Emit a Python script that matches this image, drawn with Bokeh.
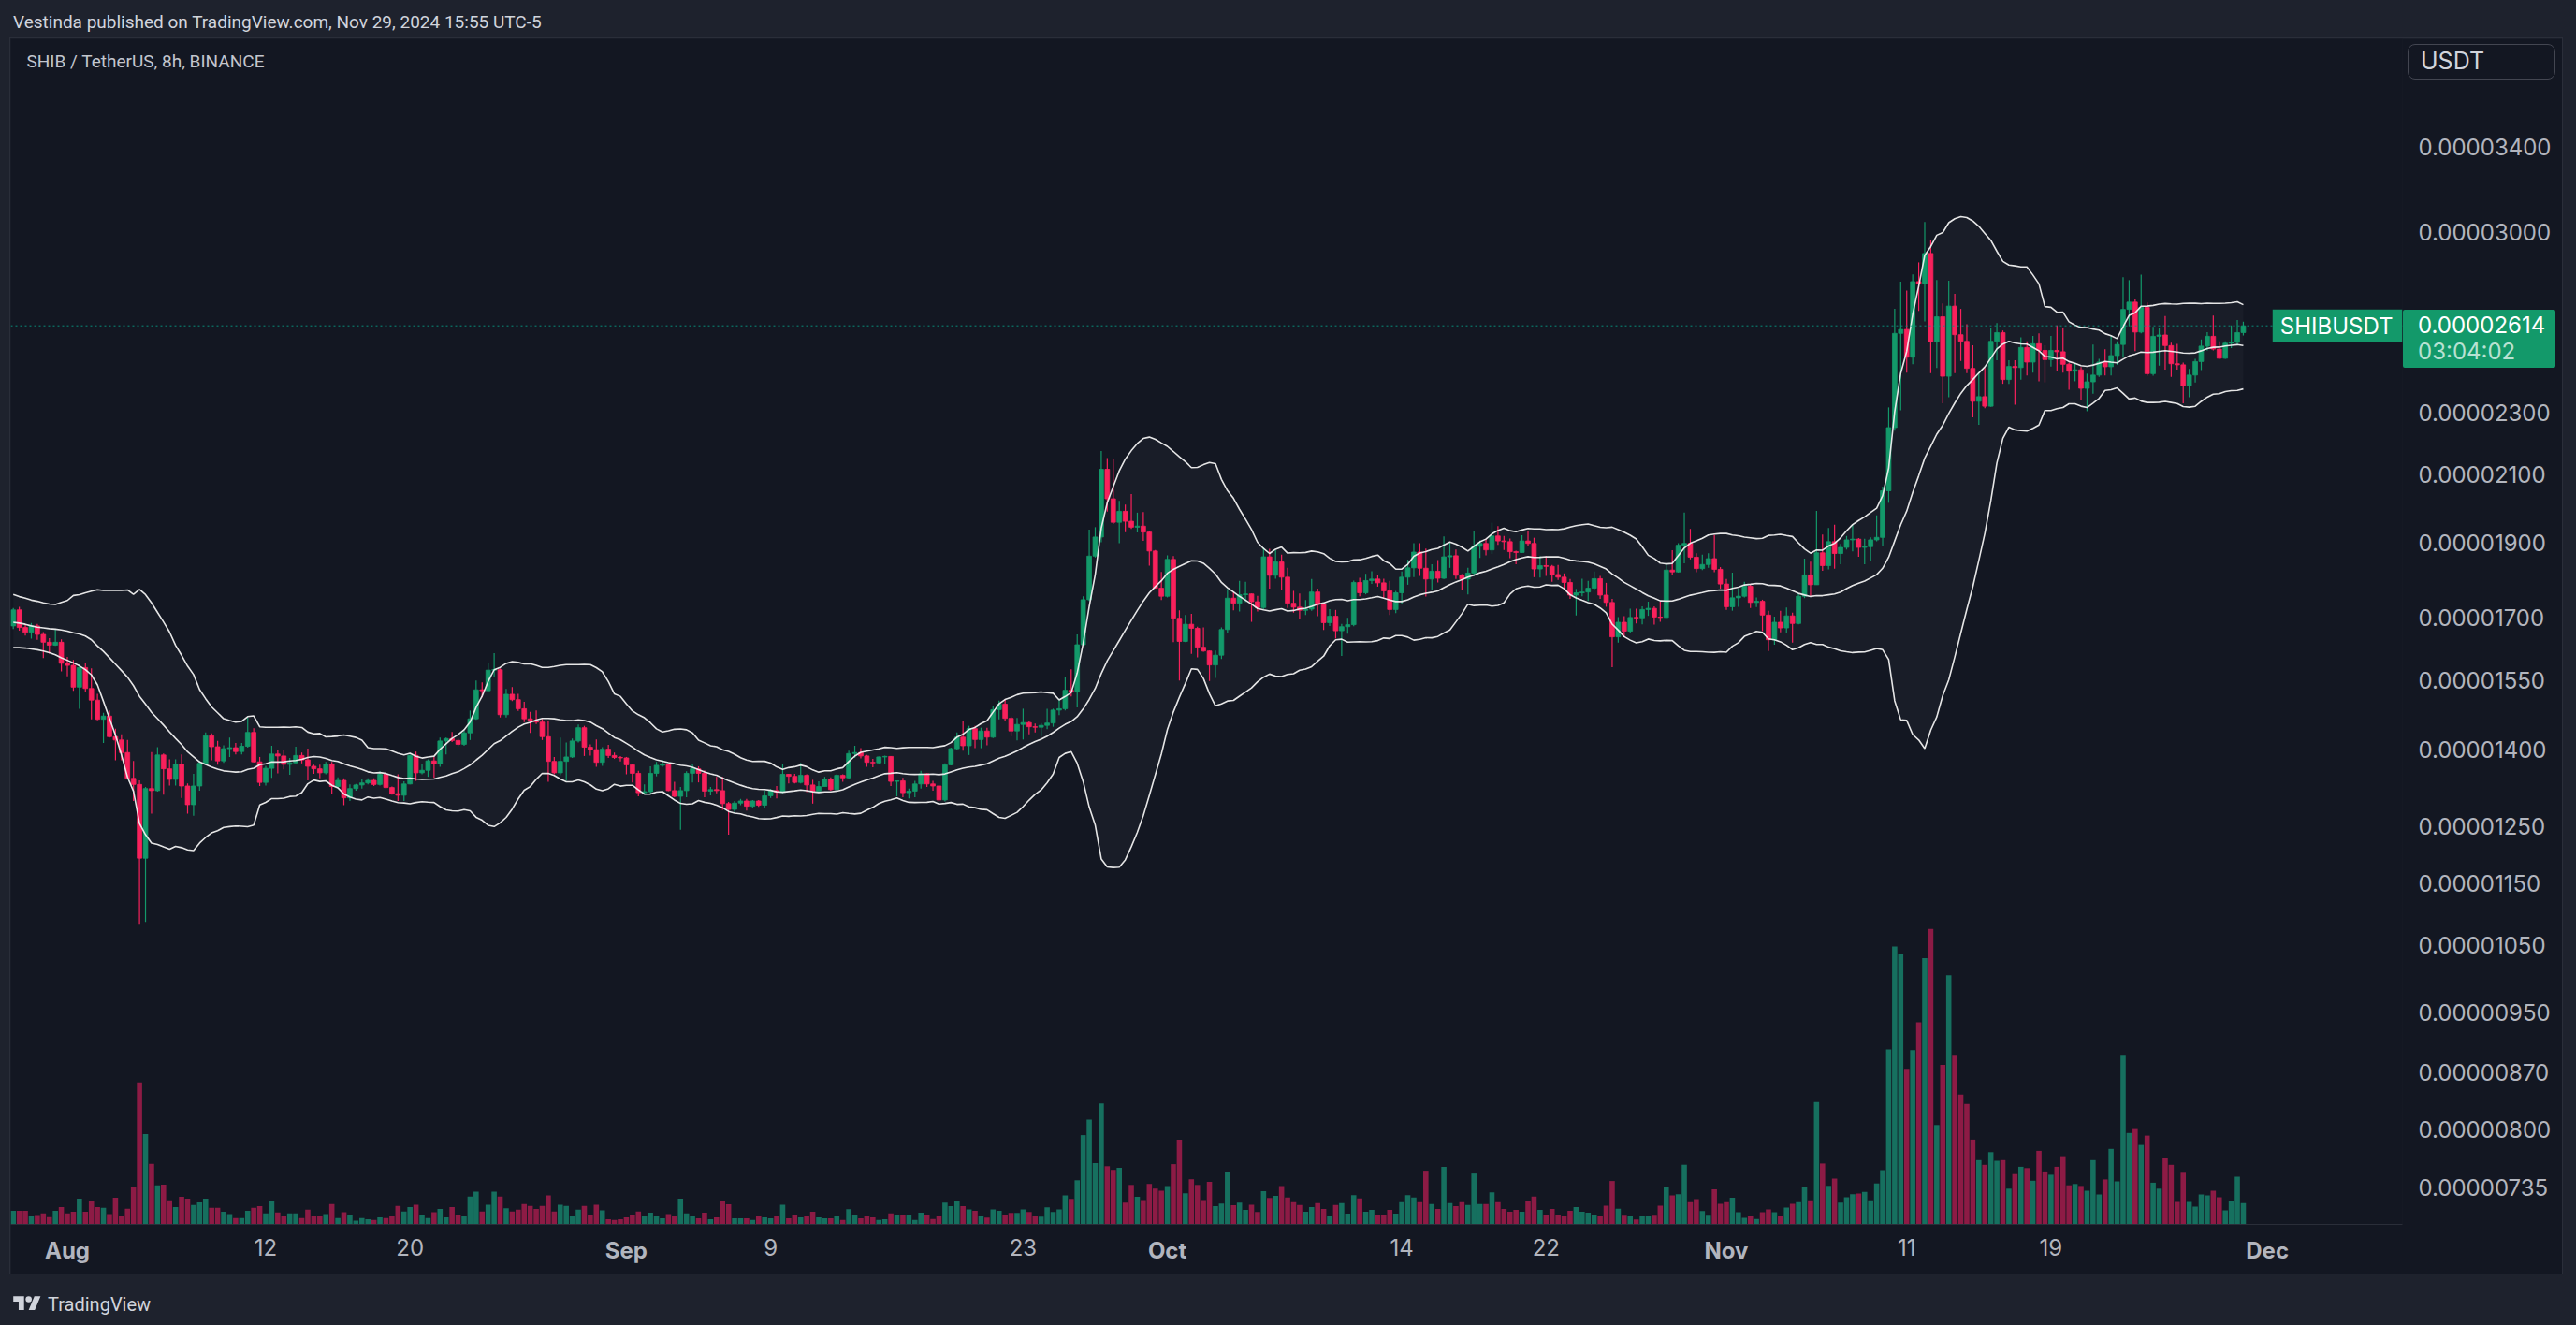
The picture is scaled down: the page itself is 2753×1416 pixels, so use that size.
import numpy as np
import pandas as pd
from bokeh.plotting import figure
from bokeh.models import (Range1d, LinearAxis, FixedTicker, PrintfTickFormatter, Span, Label,
                          Div, ColumnDataSource, LinearScale, GlobalInlineStyleSheet)
from bokeh.layouts import column
from bokeh.embed import file_html
from bokeh.resources import INLINE

# ---------------- data (prices in 1e-8 USDT, 8h candles from Jul 29 00:00) ----------------
first_open = 1680
close_e8 = [
    1720, 1676, 1664, 1680, 1659, 1640, 1633, 1640, 1590, 1585, 1535, 1580, 1532, 1506, 1464, 1471, 1427, 1420, 1394, 1342,
    1330, 1193, 1322, 1318, 1389, 1361, 1340, 1370, 1327, 1291, 1327, 1372, 1429, 1406, 1377, 1402, 1404, 1396, 1407, 1436,
    1375, 1334, 1362, 1391, 1387, 1370, 1373, 1388, 1379, 1366, 1361, 1353, 1370, 1326, 1338, 1304, 1322, 1329, 1333, 1338,
    1330, 1350, 1324, 1312, 1309, 1331, 1388, 1353, 1358, 1377, 1371, 1418, 1423, 1419, 1411, 1435, 1465, 1529, 1527, 1574,
    1575, 1474, 1519, 1507, 1487, 1465, 1460, 1458, 1427, 1376, 1353, 1376, 1385, 1418, 1446, 1405, 1400, 1374, 1401, 1388,
    1384, 1383, 1369, 1352, 1314, 1316, 1352, 1368, 1370, 1318, 1307, 1318, 1352, 1361, 1352, 1317, 1320, 1318, 1293, 1282,
    1294, 1298, 1288, 1298, 1290, 1308, 1318, 1315, 1350, 1346, 1334, 1348, 1329, 1317, 1326, 1340, 1320, 1348, 1343, 1392,
    1394, 1387, 1374, 1373, 1385, 1386, 1336, 1337, 1314, 1317, 1331, 1351, 1331, 1327, 1300, 1369, 1402, 1426, 1408, 1444,
    1421, 1439, 1426, 1485, 1497, 1466, 1439, 1453, 1457, 1448, 1447, 1451, 1456, 1484, 1487, 1528, 1524, 1634, 1746, 1862,
    1915, 2116, 2026, 1957, 1989, 1960, 1943, 1946, 1929, 1876, 1776, 1755, 1853, 1699, 1642, 1684, 1674, 1628, 1619, 1586,
    1609, 1671, 1750, 1737, 1759, 1761, 1741, 1726, 1860, 1810, 1846, 1805, 1737, 1727, 1719, 1722, 1766, 1734, 1688, 1704,
    1668, 1678, 1683, 1791, 1764, 1796, 1800, 1790, 1769, 1721, 1764, 1805, 1830, 1873, 1829, 1800, 1821, 1802, 1860, 1863,
    1810, 1800, 1816, 1889, 1897, 1879, 1918, 1904, 1902, 1874, 1872, 1904, 1897, 1827, 1836, 1834, 1812, 1805, 1791, 1758,
    1764, 1766, 1776, 1801, 1758, 1739, 1653, 1689, 1667, 1701, 1700, 1721, 1724, 1702, 1701, 1824, 1819, 1892, 1897, 1859,
    1828, 1839, 1855, 1826, 1787, 1728, 1751, 1755, 1781, 1739, 1742, 1707, 1646, 1689, 1675, 1705, 1686, 1755, 1811, 1785,
    1871, 1836, 1902, 1869, 1886, 1907, 1909, 1886, 1888, 1907, 1914, 2050, 2250, 2585, 2600, 2496, 2790, 2780, 2908, 2553,
    2649, 2427, 2691, 2580, 2555, 2455, 2339, 2355, 2322, 2555, 2588, 2415, 2462, 2458, 2532, 2478, 2546, 2521, 2487, 2521,
    2516, 2470, 2445, 2450, 2384, 2407, 2431, 2478, 2461, 2502, 2543, 2678, 2707, 2590, 2686, 2436, 2574, 2579, 2539, 2472,
    2468, 2393, 2431, 2480, 2537, 2574, 2526, 2492, 2548, 2551, 2588, 2614,
]
high_e8 = [
    1725, 1728, 1683, 1687, 1685, 1665, 1650, 1671, 1647, 1605, 1598, 1587, 1590, 1578, 1520, 1478, 1483, 1444, 1432, 1420,
    1377, 1338, 1325, 1395, 1405, 1392, 1380, 1380, 1390, 1332, 1351, 1377, 1436, 1434, 1418, 1409, 1425, 1414, 1414, 1468,
    1445, 1385, 1367, 1408, 1400, 1400, 1383, 1406, 1394, 1402, 1369, 1369, 1375, 1375, 1344, 1342, 1330, 1331, 1341, 1342,
    1342, 1356, 1354, 1326, 1350, 1336, 1390, 1396, 1370, 1380, 1386, 1425, 1425, 1437, 1423, 1440, 1483, 1550, 1546, 1592,
    1614, 1578, 1531, 1535, 1520, 1502, 1480, 1483, 1465, 1461, 1385, 1425, 1415, 1423, 1453, 1450, 1411, 1421, 1405, 1410,
    1394, 1387, 1385, 1371, 1357, 1330, 1366, 1375, 1379, 1371, 1335, 1325, 1356, 1371, 1366, 1358, 1325, 1345, 1345, 1296,
    1298, 1302, 1302, 1300, 1300, 1318, 1321, 1327, 1371, 1351, 1351, 1373, 1350, 1339, 1336, 1345, 1344, 1350, 1350, 1398,
    1408, 1403, 1389, 1381, 1386, 1388, 1387, 1338, 1343, 1322, 1337, 1357, 1352, 1337, 1328, 1372, 1404, 1436, 1461, 1450,
    1450, 1446, 1446, 1494, 1505, 1508, 1470, 1467, 1487, 1460, 1455, 1456, 1487, 1487, 1509, 1557, 1576, 1659, 1755, 1936,
    1943, 2174, 2151, 2149, 2020, 2009, 2040, 1985, 1987, 1932, 1879, 1819, 1864, 1862, 1719, 1707, 1710, 1678, 1676, 1620,
    1620, 1676, 1774, 1765, 1795, 1793, 1762, 1756, 1886, 1882, 1878, 1866, 1830, 1769, 1762, 1745, 1800, 1775, 1738, 1722,
    1720, 1685, 1700, 1796, 1803, 1814, 1821, 1810, 1801, 1795, 1769, 1820, 1852, 1898, 1898, 1883, 1840, 1851, 1917, 1901,
    1880, 1813, 1830, 1932, 1905, 1910, 1956, 1946, 1918, 1911, 1877, 1920, 1932, 1913, 1862, 1862, 1838, 1838, 1815, 1800,
    1774, 1801, 1795, 1820, 1808, 1790, 1748, 1702, 1704, 1723, 1723, 1729, 1741, 1729, 1741, 1839, 1878, 1898, 1985, 1938,
    1870, 1866, 1870, 1921, 1832, 1800, 1817, 1775, 1793, 1785, 1752, 1746, 1718, 1703, 1718, 1726, 1713, 1763, 1855, 1847,
    1990, 1922, 1941, 1950, 1896, 1918, 1950, 1912, 1910, 1914, 1977, 2063, 2318, 2680, 2790, 2753, 2820, 2870, 3046, 2968,
    2796, 2702, 2794, 2740, 2680, 2620, 2540, 2440, 2457, 2605, 2625, 2596, 2485, 2485, 2570, 2555, 2575, 2585, 2540, 2575,
    2616, 2605, 2475, 2475, 2460, 2436, 2543, 2490, 2525, 2575, 2555, 2808, 2796, 2718, 2819, 2705, 2610, 2605, 2652, 2550,
    2545, 2476, 2453, 2490, 2562, 2590, 2654, 2555, 2555, 2616, 2636, 2630,
]
low_e8 = [
    1672, 1668, 1656, 1649, 1646, 1602, 1613, 1631, 1571, 1560, 1527, 1487, 1523, 1464, 1462, 1414, 1425, 1378, 1378, 1340,
    1298, 1083, 1086, 1274, 1316, 1310, 1328, 1328, 1304, 1274, 1270, 1318, 1370, 1378, 1369, 1373, 1385, 1390, 1390, 1404,
    1374, 1327, 1328, 1343, 1352, 1360, 1349, 1372, 1372, 1338, 1351, 1342, 1350, 1311, 1324, 1290, 1298, 1318, 1322, 1330,
    1327, 1328, 1322, 1310, 1298, 1298, 1330, 1337, 1350, 1345, 1343, 1365, 1390, 1416, 1407, 1408, 1420, 1463, 1512, 1524,
    1557, 1468, 1468, 1504, 1482, 1458, 1435, 1454, 1420, 1335, 1350, 1348, 1337, 1383, 1415, 1387, 1388, 1365, 1367, 1383,
    1381, 1376, 1350, 1334, 1307, 1312, 1312, 1346, 1365, 1317, 1305, 1244, 1305, 1334, 1334, 1305, 1309, 1313, 1281, 1235,
    1277, 1290, 1280, 1285, 1287, 1285, 1304, 1303, 1313, 1332, 1332, 1332, 1315, 1293, 1316, 1326, 1318, 1319, 1335, 1340,
    1383, 1382, 1365, 1364, 1371, 1370, 1327, 1307, 1305, 1303, 1305, 1322, 1325, 1318, 1297, 1297, 1368, 1400, 1398, 1389,
    1403, 1403, 1409, 1424, 1464, 1461, 1428, 1419, 1421, 1432, 1436, 1428, 1443, 1448, 1473, 1483, 1514, 1490, 1632, 1743,
    1858, 1900, 1988, 1952, 1898, 1929, 1938, 1928, 1904, 1836, 1775, 1745, 1752, 1640, 1550, 1640, 1612, 1604, 1617, 1549,
    1556, 1600, 1663, 1719, 1716, 1740, 1690, 1716, 1722, 1775, 1801, 1772, 1725, 1713, 1697, 1707, 1718, 1704, 1670, 1680,
    1649, 1607, 1661, 1679, 1755, 1760, 1787, 1780, 1749, 1707, 1712, 1735, 1785, 1805, 1808, 1754, 1771, 1791, 1800, 1830,
    1800, 1770, 1760, 1808, 1857, 1864, 1868, 1893, 1879, 1856, 1840, 1871, 1890, 1805, 1804, 1808, 1793, 1798, 1770, 1748,
    1706, 1755, 1743, 1770, 1748, 1728, 1581, 1639, 1653, 1662, 1686, 1684, 1705, 1683, 1690, 1700, 1812, 1817, 1842, 1853,
    1818, 1824, 1830, 1818, 1775, 1720, 1718, 1728, 1752, 1725, 1727, 1667, 1619, 1634, 1664, 1663, 1639, 1684, 1750, 1754,
    1785, 1822, 1826, 1828, 1840, 1880, 1875, 1860, 1840, 1850, 1903, 1890, 2014, 2240, 2308, 2440, 2470, 2672, 2631, 2438,
    2457, 2332, 2353, 2438, 2482, 2438, 2284, 2259, 2315, 2320, 2485, 2400, 2400, 2327, 2415, 2430, 2440, 2409, 2405, 2462,
    2445, 2440, 2379, 2409, 2342, 2305, 2365, 2425, 2430, 2430, 2468, 2494, 2612, 2518, 2585, 2429, 2429, 2465, 2451, 2425,
    2451, 2332, 2353, 2405, 2449, 2521, 2521, 2490, 2490, 2530, 2542, 2577,
]
# volume, relative units
volume = [
    14.5, 14.5, 14.5, 8.6, 10, 11.8, 7.7, 14.5, 18.6, 11.8, 13.6, 27.6, 13.6, 24.5, 18.6, 17.7, 10.9, 28.5, 9.5, 16.8,
    39.8, 151.7, 96.4, 64.7, 41.7, 42.6, 25.8, 18.6, 29.4, 27.6, 20.8, 23.5, 27.6, 17.7, 17.7, 13.6, 10.9, 6.8, 6.8, 14.5,
    17.7, 19.5, 11.8, 24.5, 12.7, 9.5, 11.8, 11.8, 6.8, 15.8, 8.6, 8.6, 10.9,
    21.7, 6.8, 12.9, 10.4, 4, 6.8, 5.6, 4.8, 7.6, 6.8, 8.8, 19.7, 13.7, 18.5, 20.9, 10.4, 6.8, 12.9, 16.5, 7.6,
    18.5, 10.4, 9.6, 29.7, 35, 13.7, 20.9, 35, 29.7, 17.3, 13.7, 15.7, 21.7, 19.7, 16.5, 19.7, 30.9, 13.7, 20.9, 19.7,
    9.6, 15.7, 19.7, 10.4, 20.9, 14.9, 5.6, 4.8, 5.6, 7.6, 10.4, 13.7, 9.6,
    12.5, 8.6, 6.6, 10.9, 8.6, 27.6, 11.7, 9.3, 6.6, 12.5, 5.4, 7.4, 24.9, 21.4, 6.6, 6.6, 6.6, 4.7, 8.6, 7.4,
    6.6, 9.3, 21, 6.6, 10.5, 7.4, 8.6, 13.6, 7.4, 6.6, 6.6, 9.3, 4.7, 16.3, 10.5, 6.6, 8.6, 7.4, 4.7, 5.4,
    11.7, 10.5, 10.5, 10.5, 4.7, 12.5, 10.5, 5.8, 9.3, 23.3, 19.5, 24.9, 19.5,
    16, 14.4, 9.4, 7.2, 16, 14.4, 10.5, 12.2, 12.2, 16, 13.3, 9.4, 8.3, 18.3, 13.3, 16, 31, 27.2, 47.2, 95.4,
    112, 65.5, 129.3, 62.2, 58.3, 60.5, 23.3, 42.2, 29.4, 26, 43.3, 38.3, 36, 41, 64.4, 90.5, 33.3, 48.3, 42.2, 26,
    45.5, 19.4, 22.2, 55.5, 20.5, 23.3, 15.5, 21.1, 13.3, 35.5, 28.3, 30.5, 41,
    28.7, 23.7, 20.7, 13.6, 18.6, 22.7, 16.6, 9.6, 20.7, 22.7, 11.6, 31.2, 27.7, 13.6, 15.6, 10.6, 10.6, 15.6, 11.6, 23.7,
    31.2, 28.7, 23.7, 57.4, 21.7, 16.6, 61.5, 22.7, 19.6, 23.7, 20.7, 54.4, 21.7, 21.7, 34.3, 23.7, 16.6, 13.6, 15.6, 13.6,
    24.7, 29.7, 15.6, 10.6, 16.6, 10.6, 9.6, 14.6, 18.6, 13.6, 12.6, 10.6, 8.6,
    20, 46.4, 16.8, 10.3, 8.4, 5.2, 8.4, 9, 10.3, 20, 40, 30.9, 32.2, 63.8, 23.8, 27, 14.2, 10.3, 37.4, 21.9,
    23.8, 28.4, 12.9, 7.1, 9, 5.8, 12.9, 16.1, 12.9, 9, 18, 21.9, 23.8, 40, 25.8, 130.8, 65.1, 41.2, 49, 23.2,
    29, 32.2, 32.9, 34.8, 25.8, 43.8, 58, 186.9, 297, 289.3, 166.2, 186.2, 215.9,
    284.6, 315.7, 106.2, 170.6, 266.2, 181.2, 138.8, 128.8, 90.6, 68.7, 63.7, 77.2, 68, 68.7, 38.2, 53.8, 61.6, 60.2, 46.7, 78.6,
    56.6, 53.1, 61.6, 72.9, 41.8, 43.2, 41.1, 36.1, 68.7, 31.9, 48.1, 80.7, 46, 181.2, 97.7, 101.9, 84.9, 94.9, 44.6, 38.2,
    70.8, 63.7, 24.1, 55.2, 24.1, 19.1, 31.9, 31.1, 36.1, 29, 14.9, 24.8, 51, 22.7,
]
# Bollinger values of the first 19 candles (their 20-candle window starts before the chart)
bb_upper_head = [1760, 1754, 1750, 1745, 1742, 1738, 1735, 1734, 1739, 1744, 1757, 1759, 1764, 1768, 1772, 1770, 1770, 1770, 1770]
bb_basis_head = [1689, 1687, 1684, 1680, 1677, 1675, 1673, 1672, 1670, 1667, 1663, 1660, 1655, 1646, 1631, 1618, 1603, 1588, 1573]
bb_lower_head = [1627, 1627, 1626, 1624, 1622, 1619, 1615, 1610, 1603, 1597, 1591, 1584, 1575, 1563, 1540, 1503, 1466, 1430, 1389]

price_ticks_e8 = [3400, 3000, 2300, 2100, 1900, 1700, 1550, 1400, 1250, 1150, 1050, 950, 870, 800, 735]
day_ticks = [11, 19, 39, 53, 74, 82, 102, 110]
day_labels = ["12", "20", "9", "23", "14", "22", "11", "19"]
month_ticks = [0, 31, 61, 92, 122]
month_labels = ["Aug", "Sep", "Oct", "Nov", "Dec"]
last_price_e8 = 2614
countdown = "03:04:02"
symbol = "SHIBUSDT"
currency = "USDT"

# ---------------- derived ----------------
E = 1e-8
n = len(close_e8)
c = np.array(close_e8, dtype=float) * E
o = np.array([first_open] + close_e8[:-1], dtype=float) * E
h = np.maximum(np.array(high_e8, dtype=float) * E, np.maximum(o, c))
l = np.minimum(np.array(low_e8, dtype=float) * E, np.minimum(o, c))
x = -3 + np.arange(n) / 3.0   # days from Aug 1 00:00
up = c >= o

s = pd.Series(c)
basis = s.rolling(20).mean().to_numpy()
sd = s.rolling(20).std(ddof=0).to_numpy()
upper = basis + 2 * sd
lower = basis - 2 * sd
basis[:19] = np.array(bb_basis_head) * E
upper[:19] = np.array(bb_upper_head) * E
lower[:19] = np.array(bb_lower_head) * E

GREEN = "#13996a"
RED = "#f9215c"
VGREEN = "#16705f"
VRED = "#8d1b45"
PANEL = "#131722"
OUTER = "#1e222d"
AXTXT = "#b2b5be"

src = ColumnDataSource(dict(
    x=x, o=o, c=c, h=h, l=l,
    top=np.maximum(o, c), bottom=np.minimum(o, c),
    col=[GREEN if u else RED for u in up],
    vcol=[VGREEN if u else VRED for u in up],
    vol=volume, upper=upper, lower=lower, basis=basis,
))

p = figure(width=2727, height=1321,
           x_range=Range1d(-3.14, 129.49),
           y_range=Range1d(695.6e-8, 3989.6e-8),
           y_axis_type="log", y_axis_location="right",
           output_backend="svg", toolbar_location=None,
           min_border_left=0, min_border_right=171, min_border_top=0, min_border_bottom=54,
           background_fill_color=PANEL, border_fill_color=PANEL, outline_line_color=None)
p.margin = (0, 15, 0, 11)
p.styles = {"outline": "1px solid #2a2e39"}
p.grid.visible = False

p.extra_y_ranges = {"vol": Range1d(0, 1267)}
p.extra_y_scales = {"vol": LinearScale()}

# Bollinger background
p.varea(x="x", y1="lower", y2="upper", source=src, fill_color="#ffffff", fill_alpha=0.028)
# volume
p.vbar(x="x", top="vol", bottom=0, width=0.29, source=src, fill_color="vcol", line_color=None,
       y_range_name="vol")
# candles
p.segment(x0="x", y0="l", x1="x", y1="h", source=src, line_color="col", line_width=1.2)
p.vbar(x="x", top="top", bottom="bottom", width=0.25, source=src, fill_color="col",
       line_color="col", line_width=0.8)
# Bollinger lines
for key in ("upper", "basis", "lower"):
    p.line(x="x", y=key, source=src, line_color="#f0f0f0", line_width=1.6, line_alpha=0.95)

# last price line
p.add_layout(Span(location=last_price_e8 * E, dimension="width", line_color="#089981",
                  line_dash="2 3", line_width=1, line_alpha=0.9))

# price axis (right)
yax = p.yaxis[0]
yax.ticker = FixedTicker(ticks=[t * E for t in price_ticks_e8], minor_ticks=[])
yax.formatter = PrintfTickFormatter(format="%.8f")
yax.axis_line_color = None
yax.major_tick_line_color = None
yax.minor_tick_line_color = None
yax.major_tick_out = 0
yax.minor_tick_out = 0
yax.major_label_standoff = 17
yax.major_label_text_font = "Inter"
yax.major_label_text_font_size = "24px"
yax.major_label_text_color = AXTXT

# time axis: day numbers
xax = p.xaxis[0]
xax.ticker = FixedTicker(ticks=day_ticks, minor_ticks=[])
xax.major_label_overrides = {t: lab for t, lab in zip(day_ticks, day_labels)}
xax.axis_line_color = "#2a2e39"
xax.axis_line_width = 1
xax.major_tick_line_color = None
xax.minor_tick_line_color = None
xax.major_tick_out = 0
xax.minor_tick_out = 0
xax.major_label_standoff = 15
xax.major_label_text_font = "Inter"
xax.major_label_text_font_size = "24px"
xax.major_label_text_color = AXTXT

# time axis: month names in bold, drawn on the same line
max_ = LinearAxis(ticker=FixedTicker(ticks=month_ticks, minor_ticks=[]),
                  major_label_overrides={t: lab for t, lab in zip(month_ticks, month_labels)},
                  axis_line_color=None, major_tick_line_color=None, minor_tick_line_color=None,
                  major_tick_out=0, minor_tick_out=0,
                  major_label_standoff=-23, major_label_text_font="Inter",
                  major_label_text_font_size="24px", major_label_text_font_style="bold",
                  major_label_text_color=AXTXT)
p.add_layout(max_, "below")

# chart title
p.add_layout(Label(x=-2.257, y=3860e-8, text="SHIB / TetherUS, 8h, BINANCE", text_font="Roboto",
                   text_font_size="19px", text_color="#c3c6ce", text_baseline="middle"))
# symbol tag at the right edge of the plot area
p.add_layout(Label(x=129.49, y=last_price_e8 * E, text=symbol, text_align="right", text_font="Inter",
                   text_font_size="24px", text_color="#ffffff", text_baseline="middle",
                   background_fill_color=GREEN, padding=dict(left=8, right=10, top=3, bottom=3)))

# tags that sit in the price-scale area (HTML overlay, page coordinates relative to footer top y=1362)
FOOT_TOP = 1362
overlay = (
    '<div style="position:relative;width:0;height:0;">'
    f'<div style="position:absolute;left:2573px;top:{47 - FOOT_TOP}px;width:158px;height:38px;box-sizing:border-box;'
    'border:1.5px solid #434651;border-radius:8px;background:#131722;color:#d1d4dc;font-family:Inter;'
    f'font-size:25px;line-height:35px;padding-left:13px;">{currency}</div>'
    f'<div style="position:absolute;left:2568px;top:{331 - FOOT_TOP}px;width:163px;height:62px;box-sizing:border-box;'
    f'background:{GREEN};border-radius:2px;font-family:Inter;font-size:24px;line-height:28px;padding:3px 0 0 16px;">'
    f'<div style="color:#ffffff;">{last_price_e8 * E:.8f}</div>'
    f'<div style="color:#b8e1d2;">{countdown}</div></div>'
    '</div>'
)

header = Div(text='<div style="color:#d1d4dc;font-family:Roboto;font-size:19px;line-height:28px;'
                  'padding-top:10px;padding-left:14px;white-space:nowrap;">'
                  'Vestinda published on TradingView.com, Nov 29, 2024 15:55 UTC-5</div>',
             width=2753, height=41, margin=0, styles={"background-color": OUTER})
logo = ('<svg width="30" height="23" viewBox="0 0 36 28" style="vertical-align:middle">'
        '<path d="M14 22H7V11H0V4h14v18zM28 22h-8l7.5-18h8L28 22z" fill="#d1d4dc"/>'
        '<circle cx="20" cy="8" r="4" fill="#d1d4dc"/></svg>')
footer = Div(text=overlay +
                  '<div style="color:#d1d4dc;font-family:Roboto;font-size:20px;line-height:24px;'
                  'padding-top:18px;padding-left:14px;white-space:nowrap;">' + logo +
                  '<span style="vertical-align:middle;margin-left:7px">TradingView</span></div>',
             width=2753, height=54, margin=0,
             styles={"background-color": OUTER, "overflow": "visible"})

layout = column(header, p, footer, spacing=0, width=2753, height=1416,
                styles={"background-color": OUTER},
                stylesheets=[GlobalInlineStyleSheet(
                    css="html,body{margin:0;padding:0;background-color:#1e222d;overflow:hidden;}")])

open("out.html", "w").write(file_html(layout, INLINE))
